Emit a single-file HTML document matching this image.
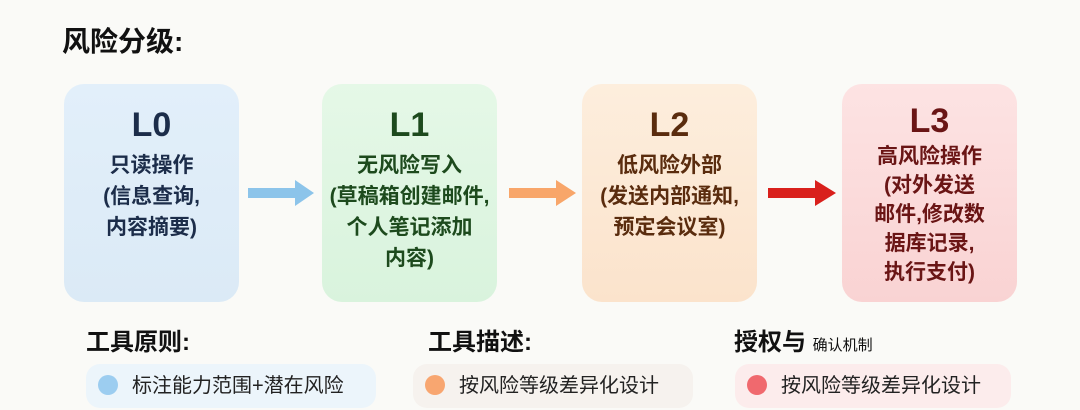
<!DOCTYPE html>
<html><head><meta charset="utf-8"><style>
body{margin:0;width:1080px;height:410px;background:#fafaf7;font-family:"Liberation Sans","Noto Sans CJK SC",sans-serif;position:relative;overflow:hidden}
.a{position:absolute}
.box{position:absolute;top:84px;width:175px;height:218px;border-radius:20px;text-align:center;font-weight:bold}
.box .h{font-size:34px;margin-top:22px;line-height:38px}
.box .t{font-size:21px;line-height:31px;margin-top:6px}
.hd{position:absolute;top:322px;font-size:24px;font-weight:bold;color:#111}
.pill{position:absolute;top:364px;height:44px;border-radius:14px;font-size:20px;line-height:44px;color:#222}
.dot{display:inline-block;width:20px;height:20px;border-radius:50%;vertical-align:-3px;margin:0 14px 0 14px}
</style></head><body>
<div class="a" style="left:62px;top:20px;font-size:28px;font-weight:bold;color:#111">风险分级:</div>

<div class="box" style="left:64px;background:linear-gradient(#e2effa,#dbeaf6);color:#1c2d4a"><div class="h">L0</div><div class="t">只读操作<br>(信息查询,<br>内容摘要)</div></div>
<div class="box" style="left:322px;background:linear-gradient(#e5f8e7,#d9f3dd);color:#1d4a1d"><div class="h">L1</div><div class="t">无风险写入<br>(草稿箱创建邮件,<br>个人笔记添加<br>内容)</div></div>
<div class="box" style="left:582px;background:linear-gradient(#fdeedd,#fbe3cc);color:#5a2c0e"><div class="h">L2</div><div class="t">低风险外部<br>(发送内部通知,<br>预定会议室)</div></div>
<div class="box" style="left:842px;background:linear-gradient(#fde3e3,#f9d3d3);color:#6a1515"><div class="h" style="margin-top:18px">L3</div><div class="t" style="line-height:29px;margin-top:2px">高风险操作<br>(对外发送<br>邮件,修改数<br>据库记录,<br>执行支付)</div></div>

<svg class="a" style="left:0;top:0" width="1080" height="410">
<polygon points="248,188 295,188 295,180 314,193 295,206 295,198 248,198" fill="#8cc4ea"/>
<polygon points="509,188 556,188 556,180 576,193 556,206 556,198 509,198" fill="#f8a66a"/>
<polygon points="768,188 815,188 815,180 836,193 815,206 815,198 768,198" fill="#d9201c"/>
</svg>

<div class="hd" style="left:86px">工具原则:</div>
<div class="hd" style="left:428px">工具描述:</div>
<div class="hd" style="left:734px">授权与 <span style="font-size:15px;font-weight:normal">确认机制</span></div>

<div class="pill" style="left:86px;width:290px;background:#ecf5fb"><span class="dot" style="background:#9ccdf0;margin-left:12px"></span>标注能力范围+潜在风险</div>
<div class="pill" style="left:413px;width:280px;background:#f6f2ee"><span class="dot" style="background:#f8a670;margin-left:12px"></span>按风险等级差异化设计</div>
<div class="pill" style="left:735px;width:276px;background:#fcecec"><span class="dot" style="background:#f0696e;margin-left:12px"></span>按风险等级差异化设计</div>
</body></html>
